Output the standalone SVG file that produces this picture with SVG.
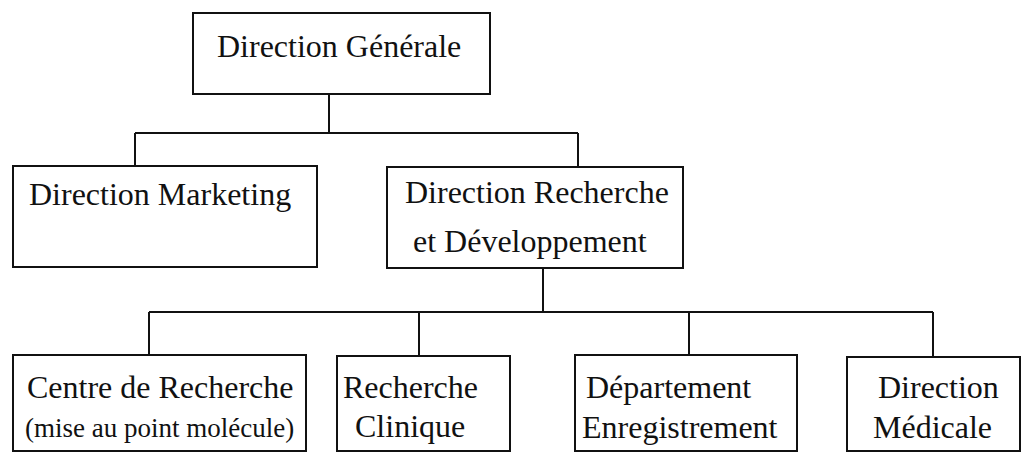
<svg xmlns="http://www.w3.org/2000/svg" width="1022" height="453" viewBox="0 0 1022 453">
<style>
.box{fill:#fff;stroke:#111;stroke-width:2}
.t{font-family:"Liberation Serif","Times New Roman",serif;font-size:32px;fill:#111}
.s{font-size:27px}
.c{fill:none;stroke:#111;stroke-width:2}
</style>
<rect width="1022" height="453" fill="#fff"/>
<g id="connectors">
<path class="c" d="M329 94V133M135 133H578M135 133V166M578 133V167"/>
<path class="c" d="M543 268V312M149 312H933M149 312V355M419 312V356M689 312V355M933 312V357"/>
</g>
<g id="n-dg"><rect class="box" x="193" y="13" width="297" height="81"/><text class="t" x="217" y="57" font-size="32">Direction Générale</text></g>
<g id="n-marketing"><rect class="box" x="13" y="166" width="304" height="101"/><text class="t" x="29" y="205">Direction Marketing</text></g>
<g id="n-rd"><rect class="box" x="387" y="167" width="296" height="101"/><text class="t" x="405" y="203">Direction Recherche</text><text class="t" x="413" y="252">et Développement</text></g>
<g id="n-centre"><rect class="box" x="13" y="355" width="293" height="96"/><text class="t" x="27" y="398">Centre de Recherche</text><text class="t s" x="25" y="437">(mise au point molécule)</text></g>
<g id="n-clinique"><rect class="box" x="337" y="356" width="173" height="95"/><text class="t" x="343" y="398">Recherche</text><text class="t" x="355" y="437">Clinique</text></g>
<g id="n-enreg"><rect class="box" x="575" y="355" width="222" height="96"/><text class="t" x="586" y="398">Département</text><text class="t" x="582" y="438">Enregistrement</text></g>
<g id="n-medicale"><rect class="box" x="847" y="357" width="173" height="94"/><text class="t" x="878" y="398">Direction</text><text class="t" x="873" y="438">Médicale</text></g>
</svg>
